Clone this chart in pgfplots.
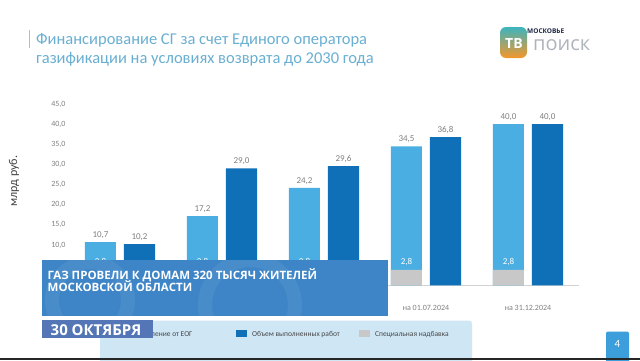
\documentclass[border=0pt]{standalone}
\usepackage{fontspec}
\setmainfont{Carlito}
\newfontfamily\bannerfont{Open Sans}
\usepackage{pgfplots}
\pgfplotsset{compat=1.18}
\definecolor{lightbar}{RGB}{75,174,226}
\definecolor{darkbar}{RGB}{16,112,183}
\definecolor{graybar}{RGB}{200,200,200}
\definecolor{titleblue}{RGB}{105,175,210}
\definecolor{bannerblue}{RGB}{62,133,199}
\definecolor{datebox}{RGB}{84,118,182}
\definecolor{legendbg}{RGB}{207,230,245}
\definecolor{pagebox}{RGB}{60,158,218}
\definecolor{labgray}{RGB}{128,128,128}
\definecolor{legtext}{RGB}{70,70,70}
\begin{document}
\begin{tikzpicture}[x=1pt,y=1pt]
\fill[white] (0,0) rectangle (640,360);
\useasboundingbox (0,0) rectangle (640,360);
% title
\draw[titleblue!70, line width=0.8pt] (29,330) -- (29,312);
\node[anchor=base west, inner sep=0, text=titleblue, font=\fontsize{16.5}{20}\selectfont] at (36,316) {Финансирование СГ за счет Единого оператора};
\node[anchor=base west, inner sep=0, text=titleblue, font=\fontsize{16.5}{20}\selectfont] at (36,297) {газификации на условиях возврата до 2030 года};
% logo
\shade[top color={rgb,255:red,60;green,180;blue,190}, middle color={rgb,255:red,225;green,60;blue,70}, bottom color={rgb,255:red,245;green,150;blue,40}, rounded corners=6pt] (500,302) rectangle (527,333);
\node[text=white, font=\bannerfont\bfseries\fontsize{14}{14}\selectfont, inner sep=0] at (514,316) {ТВ};
\node[anchor=west, text={rgb,255:red,30;green,40;blue,70}, font=\bannerfont\bfseries\fontsize{6.5}{7}\selectfont, inner sep=0] at (527,329) {МОСКОВЬЕ};
\node[anchor=west, text={rgb,255:red,175;green,180;blue,188}, font=\bannerfont\fontsize{20}{20}\selectfont, inner sep=0] at (533,315) {поиск};
\begin{axis}[
  at={(69pt,74.7pt)}, anchor=south west,
  scale only axis, width=510pt, height=181.3pt,
  xmin=-0.5, xmax=4.5, ymin=0, ymax=45,
  enlargelimits=false,
  ybar, bar width=31pt,
  axis x line*=bottom, axis y line*=left,
  x axis line style={draw=gray!35, line width=0.6pt},
  y axis line style={draw=none},
  major tick length=0pt,
  ytick={10,15,...,45},
  yticklabel style={text=labgray, font=\fontsize{8}{9}\selectfont, /pgf/number format/.cd, fixed, fixed zerofill, precision=1, use comma, assume math mode=true},
  xtick={0,1,2,3,4},
  xticklabels={на 01.01.2023, на 01.07.2023, на 01.01.2024, на 01.07.2024, на 31.12.2024},
  xticklabel style={text=labgray, font=\fontsize{8}{9}\selectfont, yshift=-16pt},
  ylabel={млрд руб.},
  ylabel style={at={(axis description cs:-0.108,0.575)}, anchor=center, font=\fontsize{12}{12}\selectfont, text={rgb,255:red,64;green,64;blue,64}},
  nodes near coords style={font=\fontsize{9}{10}\selectfont},
  clip=false,
]
\addplot[fill=lightbar, draw=none, bar shift=-19.5pt,
  nodes near coords={\pgfmathprintnumber[fixed,fixed zerofill,precision=1,use comma,assume math mode=true]{\pgfplotspointmeta}},
  nodes near coords style={text=labgray}]
  coordinates {(0,10.7) (1,17.2) (2,24.2) (3,34.5) (4,40.0)};
\addplot[fill=graybar, draw=none, bar shift=-19.5pt,
  point meta=explicit symbolic, nodes near coords,
  nodes near coords style={text=white, anchor=south, yshift=0.5pt}]
  coordinates {(0,3.8) [2,8] (1,3.8) [2,8] (2,3.8) [2,8] (3,3.8) [2,8] (4,3.8) [2,8]};
\addplot[fill=darkbar, draw=none, bar shift=19.5pt,
  nodes near coords={\pgfmathprintnumber[fixed,fixed zerofill,precision=1,use comma,assume math mode=true]{\pgfplotspointmeta}},
  nodes near coords style={text=labgray}]
  coordinates {(0,10.2) (1,29.0) (2,29.6) (3,36.8) (4,40.0)};
\end{axis}
% legend
\fill[legendbg, rounded corners=3pt] (100,-5) rectangle (472,39.5);
\fill[lightbar] (113,23) rectangle (124,30.5);
\node[anchor=base west, inner sep=0, text=legtext, font=\fontsize{7.5}{8}\selectfont] at (129,24) {Поступление от ЕОГ};
\fill[darkbar] (236,23) rectangle (247,30.5);
\node[anchor=base west, inner sep=0, text=legtext, font=\fontsize{7.5}{8}\selectfont] at (252,24) {Объем выполненных работ};
\fill[graybar] (359,23) rectangle (370,30.5);
\node[anchor=base west, inner sep=0, text=legtext, font=\fontsize{7.5}{8}\selectfont] at (375,24) {Специальная надбавка};
% banner
\fill[bannerblue] (42,44) rectangle (388,100);
\begin{scope}
\clip (42,44) rectangle (388,100);
\draw[white, opacity=0.06, line width=14pt] (90,60) circle (38);
\draw[white, opacity=0.06, line width=14pt] (250,55) circle (45);
\end{scope}
\node[anchor=base west, inner sep=0, text=white, font=\bannerfont\bfseries\fontsize{11.5}{12}\selectfont] at (47.5,80.5) {ГАЗ ПРОВЕЛИ К ДОМАМ 320 ТЫСЯЧ ЖИТЕЛЕЙ};
\node[anchor=base west, inner sep=0, text=white, font=\bannerfont\bfseries\fontsize{11.5}{12}\selectfont] at (47.5,68.5) {МОСКОВСКОЙ ОБЛАСТИ};
\fill[datebox] (42,21.7) rectangle (153,40);
\node[anchor=base west, inner sep=0, text=white, font=\bannerfont\bfseries\fontsize{15}{15}\selectfont] at (50.5,25) {30 ОКТЯБРЯ};
% page number
\fill[pagebox, rounded corners=2pt] (606,-5) rectangle (629,28.5);
\node[text=white, font=\fontsize{11}{11}\selectfont] at (617.5,16) {4};
\fill[black!85] (0,0) rectangle (640,1.6);
\end{tikzpicture}
\end{document}
